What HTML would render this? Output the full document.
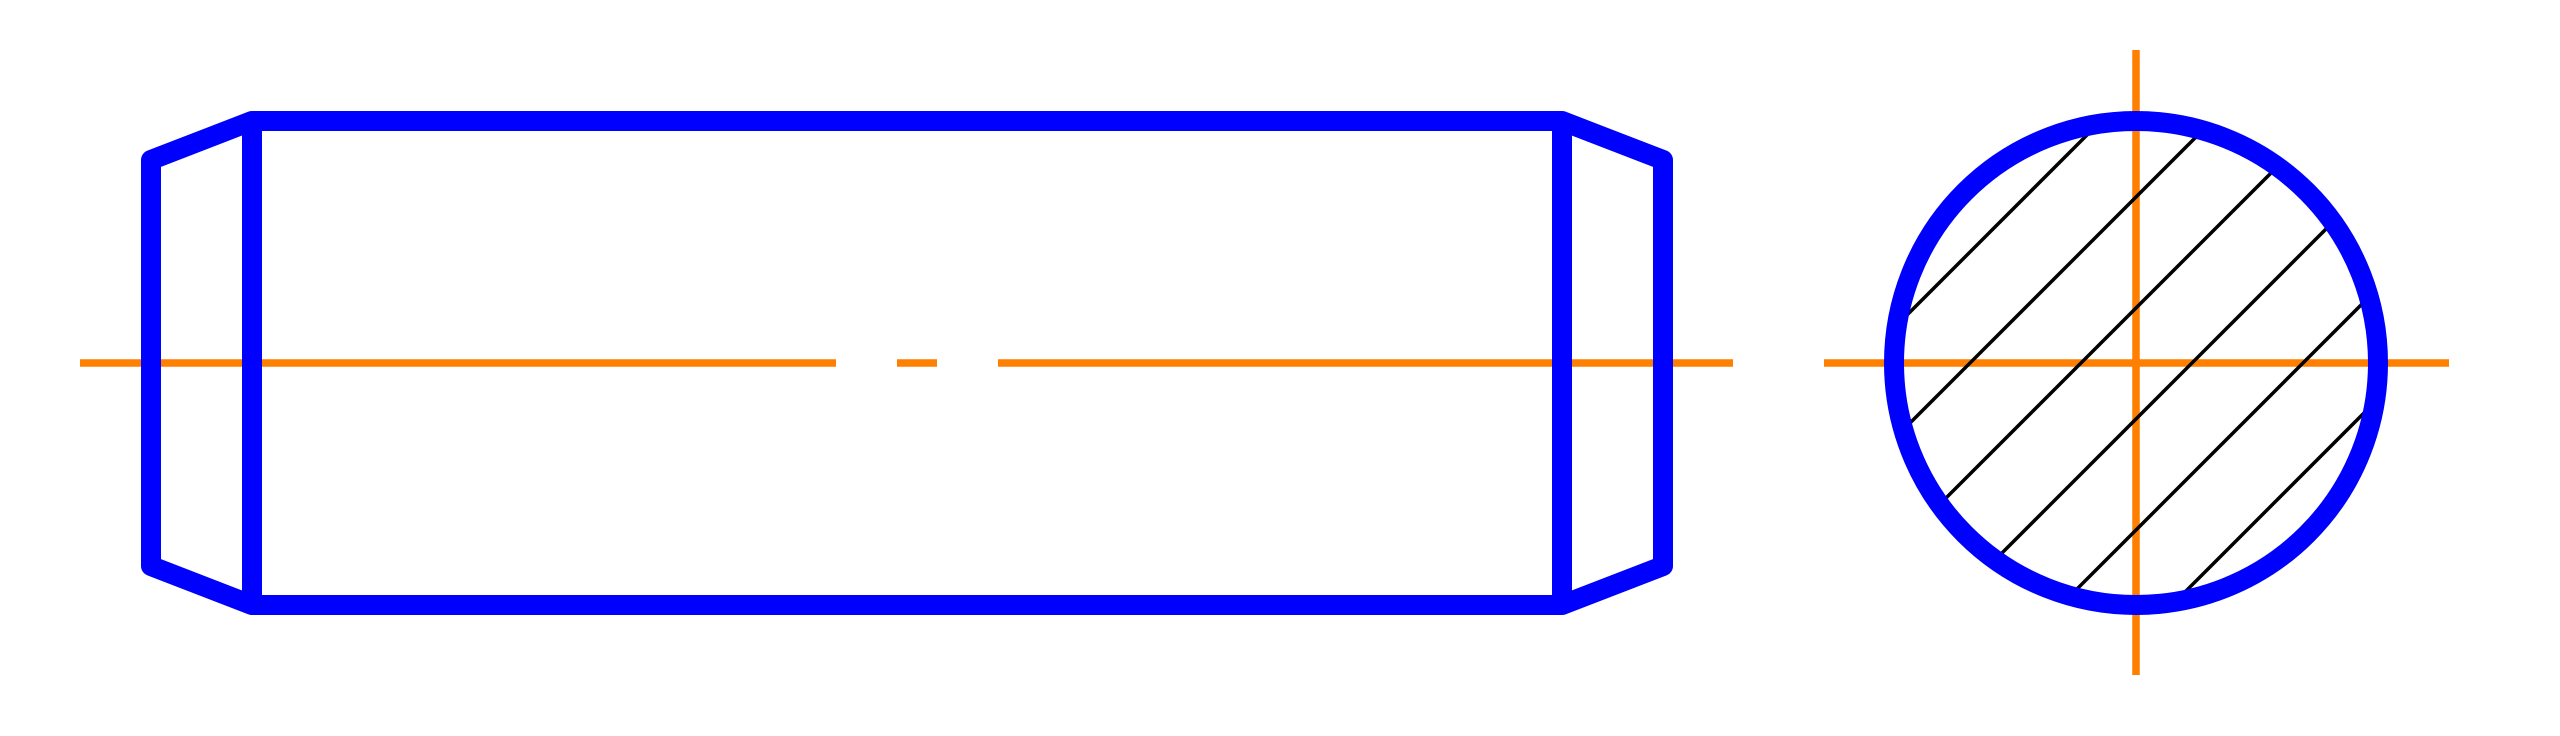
<!DOCTYPE html>
<html><head><meta charset="utf-8"><style>html,body{margin:0;padding:0;background:#fff;width:2560px;height:736px;overflow:hidden}svg{display:block}</style></head>
<body>
<svg width="2560" height="736" viewBox="0 0 2560 736" xmlns="http://www.w3.org/2000/svg">
<defs><clipPath id="c"><circle cx="2136" cy="363" r="234"/></clipPath></defs>
<g stroke="#ff7f00" stroke-width="7.5" fill="none">
<line x1="80" y1="363" x2="836" y2="363"/>
<line x1="897" y1="363" x2="937" y2="363"/>
<line x1="998" y1="363" x2="1733" y2="363"/>
<line x1="1824" y1="363" x2="2449" y2="363"/>
<line x1="2136" y1="50" x2="2136" y2="675"/>
</g>
<g clip-path="url(#c)" stroke="#000" stroke-width="3.5">
<line x1="1800" y1="422" x2="2222" y2="0"/>
<line x1="1800" y1="533" x2="2333" y2="0"/>
<line x1="1800" y1="644" x2="2444" y2="0"/>
<line x1="1800" y1="755" x2="2555" y2="0"/>
<line x1="1800" y1="866" x2="2666" y2="0"/>
<line x1="1800" y1="977" x2="2777" y2="0"/>
</g>
<g stroke="#0000ff" stroke-width="20" fill="none" stroke-linejoin="round">
<path d="M252 121 L1562 121 L1663 160 L1663 566 L1562 605 L252 605 L151 566 L151 160 Z"/>
<line x1="252" y1="121" x2="252" y2="605"/>
<line x1="1562" y1="121" x2="1562" y2="605"/>
<circle cx="2136" cy="363" r="242"/>
</g>
</svg>
</body></html>
